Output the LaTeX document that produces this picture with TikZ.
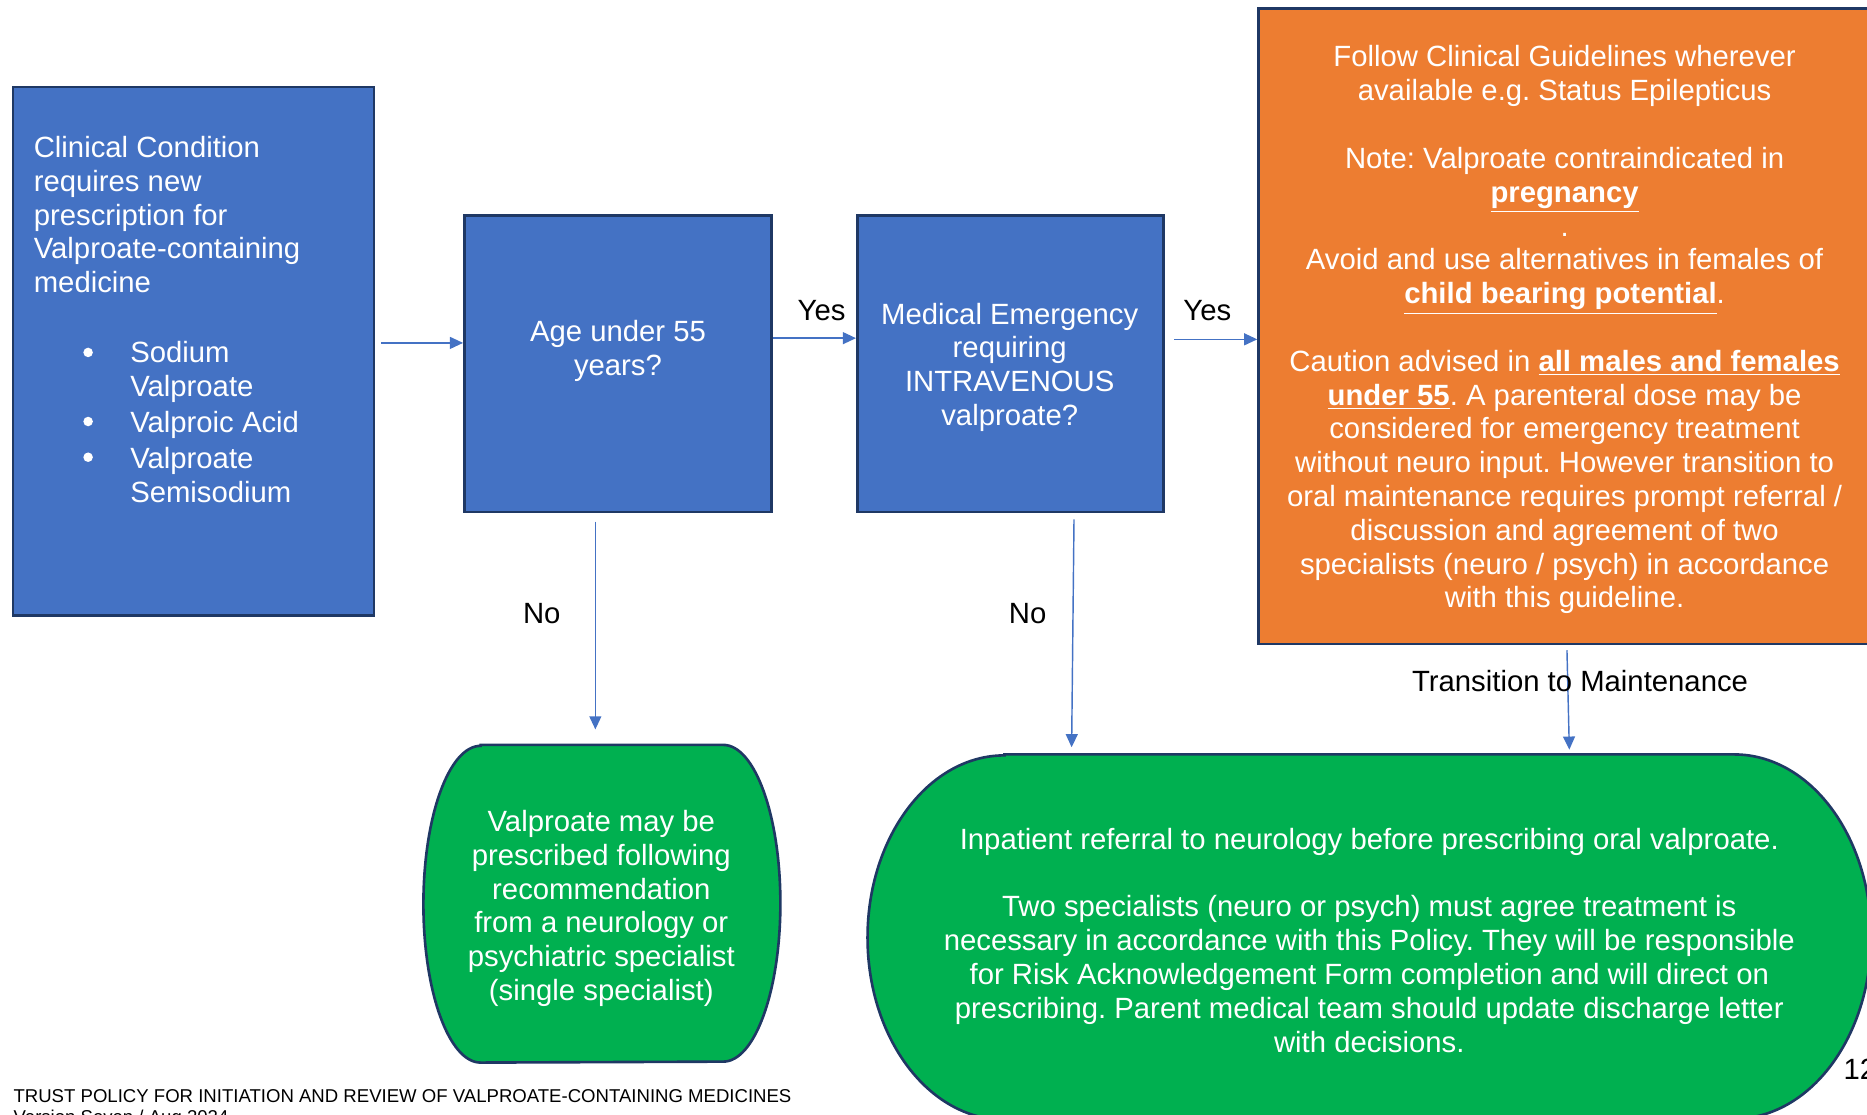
\documentclass[tikz,border=0pt]{standalone}
\usepackage{fontspec}
\setmainfont{Liberation Sans}
\usetikzlibrary{arrows.meta}
\definecolor{boxblue}{HTML}{4472C4}
\definecolor{navy}{HTML}{1F3864}
\definecolor{orng}{HTML}{ED7D31}
\definecolor{grn}{HTML}{00B050}
\frenchspacing
\begin{document}
\frenchspacing
\begin{tikzpicture}[x=0.5pt,y=-0.5pt,
  bx/.style={draw=navy, line width=1.1pt, fill=boxblue, inner sep=0pt},
  obx/.style={draw=navy, line width=1.1pt, fill=orng, inner sep=0pt},
  shapebox/.style={inner sep=0pt, draw=none},
  greenshape/.style={draw=navy, line width=1.1pt, fill=grn},
  txt/.style={font=\fontsize{12.3pt}{14.2pt}\selectfont\frenchspacing, inner sep=0pt, text=white},
  bul/.style={circle, fill=white, draw=none, inner sep=0pt, minimum size=4pt},
  lbl/.style={font=\fontsize{12.3pt}{14.2pt}\selectfont, inner sep=0pt, text=black},
  arr/.style={draw=boxblue, line width=0.6pt, -{Triangle[length=5.5pt,width=5pt]}},
]
\useasboundingbox (0,0) rectangle (1568,936);
\begin{scope}
\clip (0,0) rectangle (1568,936);
% boxes
\node[bx, minimum width=151.5pt, minimum height=222pt] (b1) at (162.5,295) {};
\node[bx, minimum width=129pt, minimum height=124.5pt] (b2) at (519,305.5) {};
\node[bx, minimum width=128.5pt, minimum height=124.5pt] (b3) at (848.5,305.5) {};
\node[obx, minimum width=257pt, minimum height=267pt] (org) at (1314,274) {};
% green terminators
\node[shapebox, minimum width=149.5pt, minimum height=133pt] (g1) at (505.5,759) {};
\draw[greenshape] ([xshift=24pt]g1.north west) -- ([xshift=-24pt]g1.north east)
  arc[start angle=90, end angle=-90, x radius=24pt, y radius=66.5pt]
  -- ([xshift=24pt]g1.south west)
  arc[start angle=270, end angle=90, x radius=24pt, y radius=66.5pt] -- cycle;
\node[shapebox, minimum width=421pt, minimum height=153pt] (g2) at (1150,787) {};
\draw[greenshape] ([xshift=57.5pt]g2.north west) -- ([xshift=-57.5pt]g2.north east)
  arc[start angle=90, end angle=-90, x radius=57.5pt, y radius=76.5pt]
  -- ([xshift=57.5pt]g2.south west)
  arc[start angle=270, end angle=90, x radius=57.5pt, y radius=76.5pt] -- cycle;
% texts
\node[txt, anchor=north west, align=left] (t1) at (28,114)
  {Clinical Condition\\requires new\\prescription for\\Valproate-containing\\medicine};
\node[txt, anchor=north west, align=left] (t1b) at (109,286)
  {Sodium\\Valproate\\[1pt]Valproic Acid\\[1pt]Valproate\\Semisodium};
\node[bul] (bul1) at (74,296) {};
\node[bul] (bul2) at (74,354) {};
\node[bul] (bul3) at (74,384) {};
\node[txt, anchor=north, align=center] (t2) at (519,269) {Age under 55\\years?};
\node[txt, anchor=north, align=center] (t3) at (848,254)
  {Medical Emergency\\requiring\\INTRAVENOUS\\valproate?};
\node[txt, anchor=north, align=center] (t4) at (1314,38)
  {Follow Clinical Guidelines wherever\\available e.g. Status Epilepticus\\[14.2pt]Note: Valproate contraindicated in\\\underline{\textbf{pregnancy}}\\.\\Avoid and use alternatives in females of\\\underline{\textbf{child bearing potential}}.\\[14.2pt]Caution advised in \underline{\textbf{all males and females}}\\\underline{\textbf{under 55}}. A parenteral dose may be\\considered for emergency treatment\\without neuro input. However transition to\\oral maintenance requires prompt referral /\\discussion and agreement of two\\specialists (neuro / psych) in accordance\\with this guideline.};
\node[txt, anchor=north, align=center] (t5) at (505,680)
  {Valproate may be\\prescribed following\\recommendation\\from a neurology or\\psychiatric specialist\\(single specialist)};
\node[txt, anchor=north, align=center] (t6) at (1150,695)
  {Inpatient referral to neurology before prescribing oral valproate.\\[14.2pt]Two specialists (neuro or psych) must agree treatment is\\necessary in accordance with this Policy. They will be responsible\\for Risk Acknowledgement Form completion and will direct on\\prescribing. Parent medical team should update discharge letter\\with decisions.};
% connectors
\draw[arr] ([xshift=2.5pt,yshift=3.5pt]b1.east) -- ([yshift=8.75pt]b2.west);
\draw[arr] ([yshift=10.75pt]b2.east) -- ([yshift=10.75pt]b3.west);
\draw[arr] ([xshift=4pt,yshift=10.25pt]b3.east) -- ([yshift=-5.5pt]org.west);
\draw[arr] ([xshift=-9.5pt,yshift=-3.5pt]b2.south) -- ([xshift=-2.75pt,yshift=6.5pt]g1.north);
\draw[arr] ([xshift=26.75pt,yshift=-2.5pt]b3.south) -- ([xshift=-125pt,yshift=3pt]g2.north);
\draw[arr] ([xshift=1pt,yshift=-2pt]org.south) -- ([xshift=84pt,yshift=2pt]g2.north);
% labels
\node[lbl] (yes1) at (690,261) {Yes};
\node[lbl] (yes2) at (1014,261) {Yes};
\node[lbl] (no1) at (455,515) {No};
\node[lbl] (no2) at (863,515) {No};
\node[lbl] (trans) at (1327,572) {Transition to Maintenance};
\node[lbl, anchor=north west] (pg) at (1548,889) {12};
\node[font=\fontsize{7.8pt}{8.6pt}\selectfont, anchor=north west, inner sep=0pt, align=left] (foot) at (11,915)
  {TRUST POLICY FOR INITIATION AND REVIEW OF VALPROATE-CONTAINING MEDICINES\\Version Seven / Aug 2024};
\end{scope}
\end{tikzpicture}
\end{document}
